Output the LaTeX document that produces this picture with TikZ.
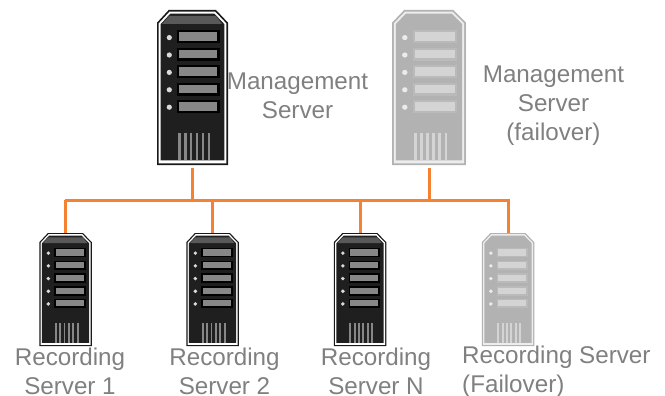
\documentclass[tikz,border=0pt]{standalone}
\usepackage{fontspec}
\setmainfont{Liberation Sans}
\definecolor{lineorange}{HTML}{F58233}
\definecolor{labelgrey}{HTML}{808080}
\tikzset{
  lbl/.style={text=labelgrey,font=\fontsize{24.2}{29}\selectfont,inner sep=0pt,align=center},
  lnk/.style={draw=lineorange,line width=3pt},
  srvbig/.style={minimum width=71pt,minimum height=155pt,inner sep=0pt,outer sep=0pt},
  srvsmall/.style={minimum width=52.5pt,minimum height=113pt,inner sep=0pt,outer sep=0pt}
}
% #1 node name, #2 outline, #3 stripe, #4 body, #5 top, #6 slot, #7 led, #8 slot shadow
\newcommand{\srvpaint}[8]{%
 \begin{scope}[shift={(#1.north west)},xscale={\pgfkeysvalueof{/tikz/srvsx}},yscale={\pgfkeysvalueof{/tikz/srvsy}}]
  \fill[#2] (0,12.7) -- (11.7,0) -- (59,0) -- (71,12.7) -- (71,155) -- (0,155) -- cycle;
  \fill[#3] (1.7,13.4) -- (12.5,1.7) -- (58.2,1.7) -- (69.3,13.4) -- (69.3,153.3) -- (1.7,153.3) -- cycle;
  \fill[#4] (3.6,14.2) -- (13.4,3.6) -- (57.3,3.6) -- (67.4,14.2) -- (67.4,150.5) -- (3.6,150.5) -- cycle;
  \fill[#5] (12,6) -- (59,6) -- (65,14) -- (5,14) -- cycle;
  \foreach \yy in {0,1,2,3,4}{
    \fill[#8] (20,{20.5+17.4*\yy}) rectangle (62.5,{33.5+17.4*\yy});
    \fill[#6] (22,{22.5+17.4*\yy}) rectangle (60,{31+17.4*\yy});
    \fill[#7] (12.3,{27.6+17.4*\yy}) circle[radius=2.6];
  }
  \foreach \xx in {21,26.9,32.8,38.7,44.6,50.5}{
    \fill[#6] (\xx,123) rectangle ++(2.6,27);
  }
 \end{scope}}
\begin{document}
\begin{tikzpicture}[x=1pt,y=-1pt]
\useasboundingbox (0,0) rectangle (665,396);
\fill[white] (0,0) rectangle (665,396);
\node[srvbig] (ms) at (192.5,87.5) {};
\node[srvbig,minimum width=74pt] (mf) at (429,87.5) {};
\node[srvsmall] (r1) at (65.5,289.5) {};
\node[srvsmall] (r2) at (212.5,289.5) {};
\node[srvsmall] (rn) at (360,289.5) {};
\node[srvsmall] (rf) at (508,289.5) {};
\coordinate (busl) at (66,200);
\coordinate (busr) at (508,200);
\pgfkeyssetvalue{/tikz/srvsx}{1}\pgfkeyssetvalue{/tikz/srvsy}{1}
\srvpaint{ms}{black!90}{white}{black!88}{black!65}{black!47}{black!15}{black!100}
\pgfkeyssetvalue{/tikz/srvsx}{1.042}
\srvpaint{mf}{black!30}{black!7}{black!30}{black!30}{black!17}{black!8}{black!27}
\pgfkeyssetvalue{/tikz/srvsx}{0.74}\pgfkeyssetvalue{/tikz/srvsy}{0.73}
\srvpaint{r1}{black!90}{white}{black!88}{black!65}{black!47}{black!15}{black!100}
\srvpaint{r2}{black!90}{white}{black!88}{black!65}{black!47}{black!15}{black!100}
\srvpaint{rn}{black!90}{white}{black!88}{black!65}{black!47}{black!15}{black!100}
\srvpaint{rf}{black!30}{black!7}{black!30}{black!30}{black!17}{black!8}{black!27}
\draw[lnk] ([yshift=-3pt]ms.south) -- (ms.south |- busl);
\draw[lnk] ([yshift=-3pt]mf.south) -- (mf.south |- busl);
\draw[lnk] (r1.north |- busl) -- (r1.north);
\draw[lnk] (r2.north |- busl) -- (r2.north);
\draw[lnk] (rn.north |- busl) -- (rn.north);
\draw[lnk] (rf.north |- busl) -- (rf.north);
\draw[lnk,line cap=rect] (busl) -- (busr);
\node[lbl] (tms) at (297.5,95.5) {Management\\Server};
\node[lbl] (tmf) at (553.5,105.5) {Management\\Server\\(failover)};
\node[lbl] (t1) at (70,371) {Recording\\Server 1};
\node[lbl] (t2) at (224.5,371) {Recording\\Server 2};
\node[lbl] (tn) at (376,371) {Recording\\Server N};
\node[lbl,align=left,anchor=west] (tf) at (462,371.5) {Recording Server\\(Failover)};
\end{tikzpicture}
\end{document}
